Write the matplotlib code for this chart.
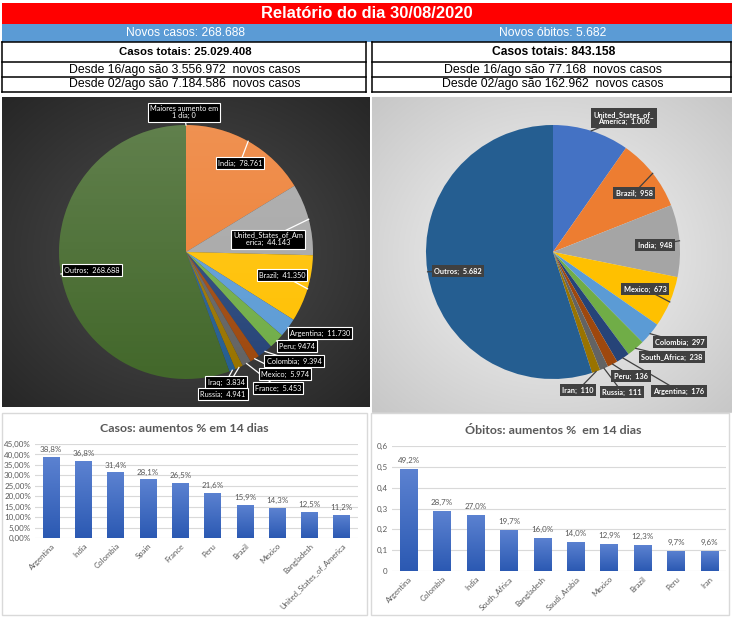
import matplotlib
matplotlib.use("Agg")
import matplotlib.pyplot as plt
from matplotlib.patches import Rectangle, Circle
from matplotlib import font_manager
import numpy as np

W, H = 732, 617

# ---- dados ----
titulo = "Relatório do dia 30/08/2020"
novos_casos = 268688
novos_obitos = 5682
casos_totais = 25029408
obitos_totais = 843158
casos_desde_16 = 3556972
casos_desde_02 = 7184586
obitos_desde_16 = 77168
obitos_desde_02 = 162962

pz_casos_nomes = ["Maiores aumento em 1 dia", "India", "United_States_of_America", "Brazil",
                  "Argentina", "Peru", "Colombia", "Mexico", "France", "Russia", "Iraq", "Outros"]
pz_casos_valores = [0, 78761, 44143, 41350, 11730, 9474, 9394, 5974, 5453, 4941, 3834, 268688]

pz_obitos_nomes = ["United_States_of_America", "Brazil", "India", "Mexico", "Colombia",
                   "South_Africa", "Argentina", "Peru", "Russia", "Iran", "Outros"]
pz_obitos_valores = [1006, 958, 948, 673, 297, 238, 176, 136, 111, 110, 5682]

bar_casos_paises = ["Argentina", "India", "Colombia", "Spain", "France", "Peru", "Brazil",
                    "Mexico", "Bangladesh", "United_States_of_America"]
bar_casos_valores = [0.388, 0.368, 0.314, 0.281, 0.265, 0.216, 0.159, 0.143, 0.125, 0.112]

bar_obitos_paises = ["Argentina", "Colombia", "India", "South_Africa", "Bangladesh",
                     "Saudi_Arabia", "Mexico", "Brazil", "Peru", "Iran"]
bar_obitos_valores = [0.492, 0.287, 0.270, 0.197, 0.160, 0.140, 0.129, 0.123, 0.097, 0.096]

# ---- fontes ----
nomes_fontes = {f.name for f in font_manager.fontManager.ttflist}
fonte_cab = "Liberation Sans Narrow" if "Liberation Sans Narrow" in nomes_fontes else "Liberation Sans"
fonte_graf = "Lato" if "Lato" in nomes_fontes else "DejaVu Sans"
plt.rcParams['font.family'] = [fonte_graf, 'DejaVu Sans']

cores_excel = ['#4472C4', '#ED7D31', '#A5A5A5', '#FFC000', '#5B9BD5', '#70AD47',
               '#264478', '#9E480E', '#636363', '#997300', '#255E91', '#43682B']
cinza_txt = '#595959'


def br(n):
    return f"{n:,}".replace(",", ".")


def pct(v):
    return f"{v * 100:.1f}%".replace(".", ",")


fig = plt.figure(figsize=(W / 100, H / 100), dpi=100)
fig.patch.set_facecolor('white')
base = fig.add_axes([0, 0, 1, 1])
base.set_xlim(0, W)
base.set_ylim(H, 0)
base.set_axis_off()
rend = fig.canvas.get_renderer()


def ajusta(t, largura):
    bb = t.get_window_extent(renderer=rend)
    t.set_fontsize(t.get_fontsize() * largura / bb.width)


# ---- cabecalho ----
base.add_patch(Rectangle((2, 3), 730, 21, fc='#FF0000', ec='none'))
base.add_patch(Rectangle((2, 24), 730, 18, fc='#5B9BD5', ec='none'))
t = base.text(367, 14, titulo, color='white', weight='bold', ha='center', va='center',
              family=[fonte_cab, 'DejaVu Sans'], fontsize=12)
ajusta(t, 210)
t = base.text(185, 33.5, "Novos casos: " + br(novos_casos), color='white', ha='center', va='center',
              family=[fonte_cab, 'DejaVu Sans'], fontsize=9)
ajusta(t, 119)
t = base.text(553, 33.5, "Novos óbitos: " + br(novos_obitos), color='white', ha='center', va='center',
              family=[fonte_cab, 'DejaVu Sans'], fontsize=9)
ajusta(t, 107)

for x0, x1 in [(2, 366), (372, 731)]:
    for yl in [42, 62, 77, 92]:
        base.plot([x0, x1], [yl, yl], color='black', lw=1.1)
    base.plot([x0, x0], [42, 92], color='black', lw=1.1)
    base.plot([x1, x1], [42, 92], color='black', lw=1.1)

linhas_tab = [
    (185, 52, "Casos totais: " + br(casos_totais), 'bold', 132),
    (185, 69.5, f"Desde 16/ago são {br(casos_desde_16)}  novos casos", 'normal', 234),
    (185, 84.5, f"Desde 02/ago são {br(casos_desde_02)}  novos casos", 'normal', 234),
    (554, 52, "Casos totais: " + br(obitos_totais), 'bold', 124),
    (553, 69.5, f"Desde 16/ago são {br(obitos_desde_16)}  novos casos", 'normal', 219),
    (553, 84.5, f"Desde 02/ago são {br(obitos_desde_02)}  novos casos", 'normal', 224),
]
for x, y, s, w, larg in linhas_tab:
    t = base.text(x, y, s, weight=w, ha='center', va='center', color='black',
                  family=[fonte_cab, 'DejaVu Sans'], fontsize=9)
    ajusta(t, larg)


# ---- pizzas ----
def pizza(x0, y0, x1, y1, cx, cy, raio, valores, cores, rotulos, posicoes,
          caixa, cor_txt, peso, cor_linha, c_centro, c_borda, brilho):
    ax = fig.add_axes([x0 / W, 1 - y1 / H, (x1 - x0) / W, (y1 - y0) / H])
    ny, nx = int(y1 - y0), int(x1 - x0)
    yy, xx = np.mgrid[0:ny, 0:nx]
    d = np.hypot((xx - nx / 2) / (nx / 2), (yy - ny / 2) / (ny / 2)) / np.sqrt(2)
    c0, c1 = np.array(c_centro), np.array(c_borda)
    img = c0 + (c1 - c0) * d[..., None]
    ax.imshow(img, extent=[x0, x1, H - y1, H - y0], zorder=0)
    cunhas, _ = ax.pie(valores, colors=cores, startangle=90, counterclock=False,
                       center=(cx, H - cy), radius=raio, frame=True,
                       wedgeprops=dict(linewidth=0))
    if brilho > 0:
        g = np.zeros((100, 2, 4))
        g[..., :3] = 1.0
        g[..., 3] = np.linspace(brilho, 0, 100)[:, None]
        im = ax.imshow(g, extent=[cx - raio, cx + raio, H - cy - raio, H - cy + raio],
                       aspect='auto', zorder=1.5)
        im.set_clip_path(Circle((cx, H - cy), raio, transform=ax.transData))
    for c, s, (lx, ly) in zip(cunhas, rotulos, posicoes):
        a = np.deg2rad((c.theta1 + c.theta2) / 2)
        px, py = cx + raio * np.cos(a), (H - cy) + raio * np.sin(a)
        ax.plot([lx, px], [H - ly, py], color=cor_linha, lw=0.9, zorder=3)
        ax.text(lx, H - ly, s, ha='center', va='center', color=cor_txt, weight=peso,
                fontsize=5.3, zorder=4, linespacing=1.1, bbox=caixa)
    ax.set_xlim(x0, x1)
    ax.set_ylim(H - y1, H - y0)
    ax.set_aspect('auto')
    ax.set_axis_off()
    return ax


quebra = {"Maiores aumento em 1 dia": "Maiores aumento em\n1 dia",
          "United_States_of_America": "United_States_of_Am\nerica"}
rot_casos = []
for n, v in zip(pz_casos_nomes, pz_casos_valores):
    valor = str(v) if n == "Peru" else br(v)
    sep = "; " if n in ("Maiores aumento em 1 dia", "Peru") else ";  "
    rot_casos.append(quebra.get(n, n) + sep + valor)
pos_casos = [(184, 112), (240, 163), (268, 239), (282, 275), (320, 333), (297, 346),
             (294, 361), (285, 374), (278, 388), (223, 394), (226, 382), (92, 270)]
pizza(2, 97, 370, 407, 186, 252, 127, pz_casos_valores, cores_excel, rot_casos, pos_casos,
      dict(boxstyle='square,pad=0.3', fc='black', ec='white', lw=0.8), 'white', 'normal', 'white',
      (0.31, 0.31, 0.31), (0.15, 0.15, 0.15), 0.16)

rot_obitos = []
for n, v in zip(pz_obitos_nomes, pz_obitos_valores):
    nome = "United_States_of_\nAmerica" if n == "United_States_of_America" else n
    rot_obitos.append(nome + ";  " + br(v))
pos_obitos = [(624, 118), (634, 193), (655, 245), (645, 289), (680, 342), (672, 357),
              (679, 391), (631, 376), (622, 392), (578, 390), (458, 271)]
cores_ob = cores_excel[:10] + ['#255E91']
pizza(372, 97, 732, 412, 553, 252, 127, pz_obitos_valores, cores_ob, rot_obitos, pos_obitos,
      dict(boxstyle='square,pad=0.35', fc='#404040', ec='none'), 'white', 'bold', '#404040',
      (0.97, 0.97, 0.97), (0.78, 0.78, 0.78), 0)
base.add_patch(Rectangle((372, 97), 359, 315, fc='none', ec='#d0d0d0', lw=0.8, zorder=5))


# ---- barras ----
def barras(px0, py0, px1, py1, paises, valores, ymax, passo, fmt_y, painel, tit, tx, ty, larg_tit):
    base.add_patch(Rectangle((painel[0], painel[1]), painel[2] - painel[0], painel[3] - painel[1],
                             fc='white', ec='#d9d9d9', lw=1.0))
    t = base.text(tx, ty, tit, ha='center', va='center', weight='bold', color=cinza_txt, fontsize=9)
    ajusta(t, larg_tit)
    ax = fig.add_axes([px0 / W, 1 - py1 / H, (px1 - px0) / W, (py1 - py0) / H])
    ax.patch.set_visible(False)
    x = np.arange(len(paises))
    bs = ax.bar(x, valores, width=0.52, color='#4472C4', zorder=2)
    topo, fundo = np.array([0.36, 0.51, 0.82]), np.array([0.17, 0.35, 0.70])
    grad = topo + (fundo - topo) * np.linspace(0, 1, 64)[:, None, None]
    for b in bs:
        im = ax.imshow(grad, extent=[b.get_x(), b.get_x() + b.get_width(), 0, b.get_height()],
                       aspect='auto', zorder=2.5)
        im.set_clip_path(b)
    for xi, v in zip(x, valores):
        ax.text(xi, v + ymax * 0.04, pct(v), ha='center', va='bottom', fontsize=5.8, color=cinza_txt)
    ticks = np.arange(0, ymax + passo / 2, passo)
    ax.set_yticks(ticks)
    ax.set_yticklabels([fmt_y(v) for v in ticks], fontsize=5.8, color=cinza_txt)
    ax.set_xticks(x)
    ax.set_xticklabels(paises, rotation=45, ha='right', rotation_mode='anchor',
                       fontsize=5.6, color=cinza_txt)
    ax.tick_params(length=0, pad=3)
    ax.yaxis.grid(True, color='#d9d9d9', lw=0.8)
    ax.set_axisbelow(True)
    for s in ax.spines.values():
        s.set_visible(False)
    ax.set_xlim(-0.5, len(paises) - 0.5)
    ax.set_ylim(0, ymax)
    return ax


barras(35, 444, 358, 538, bar_casos_paises, bar_casos_valores, 0.45, 0.05,
       lambda v: f"{v * 100:.2f}%".replace(".", ","), (2, 413, 367, 615),
       "Casos: aumentos % em 14 dias", 184, 428, 169)
barras(392, 446, 726, 571, bar_obitos_paises, bar_obitos_valores, 0.6, 0.1,
       lambda v: f"{v:.1f}".rstrip("0").rstrip(".").replace(".", ",") if v else "0",
       (371, 413, 729, 615), "Óbitos: aumentos %  em 14 dias", 553, 430, 177)

fig.savefig("out.png", dpi=100)
